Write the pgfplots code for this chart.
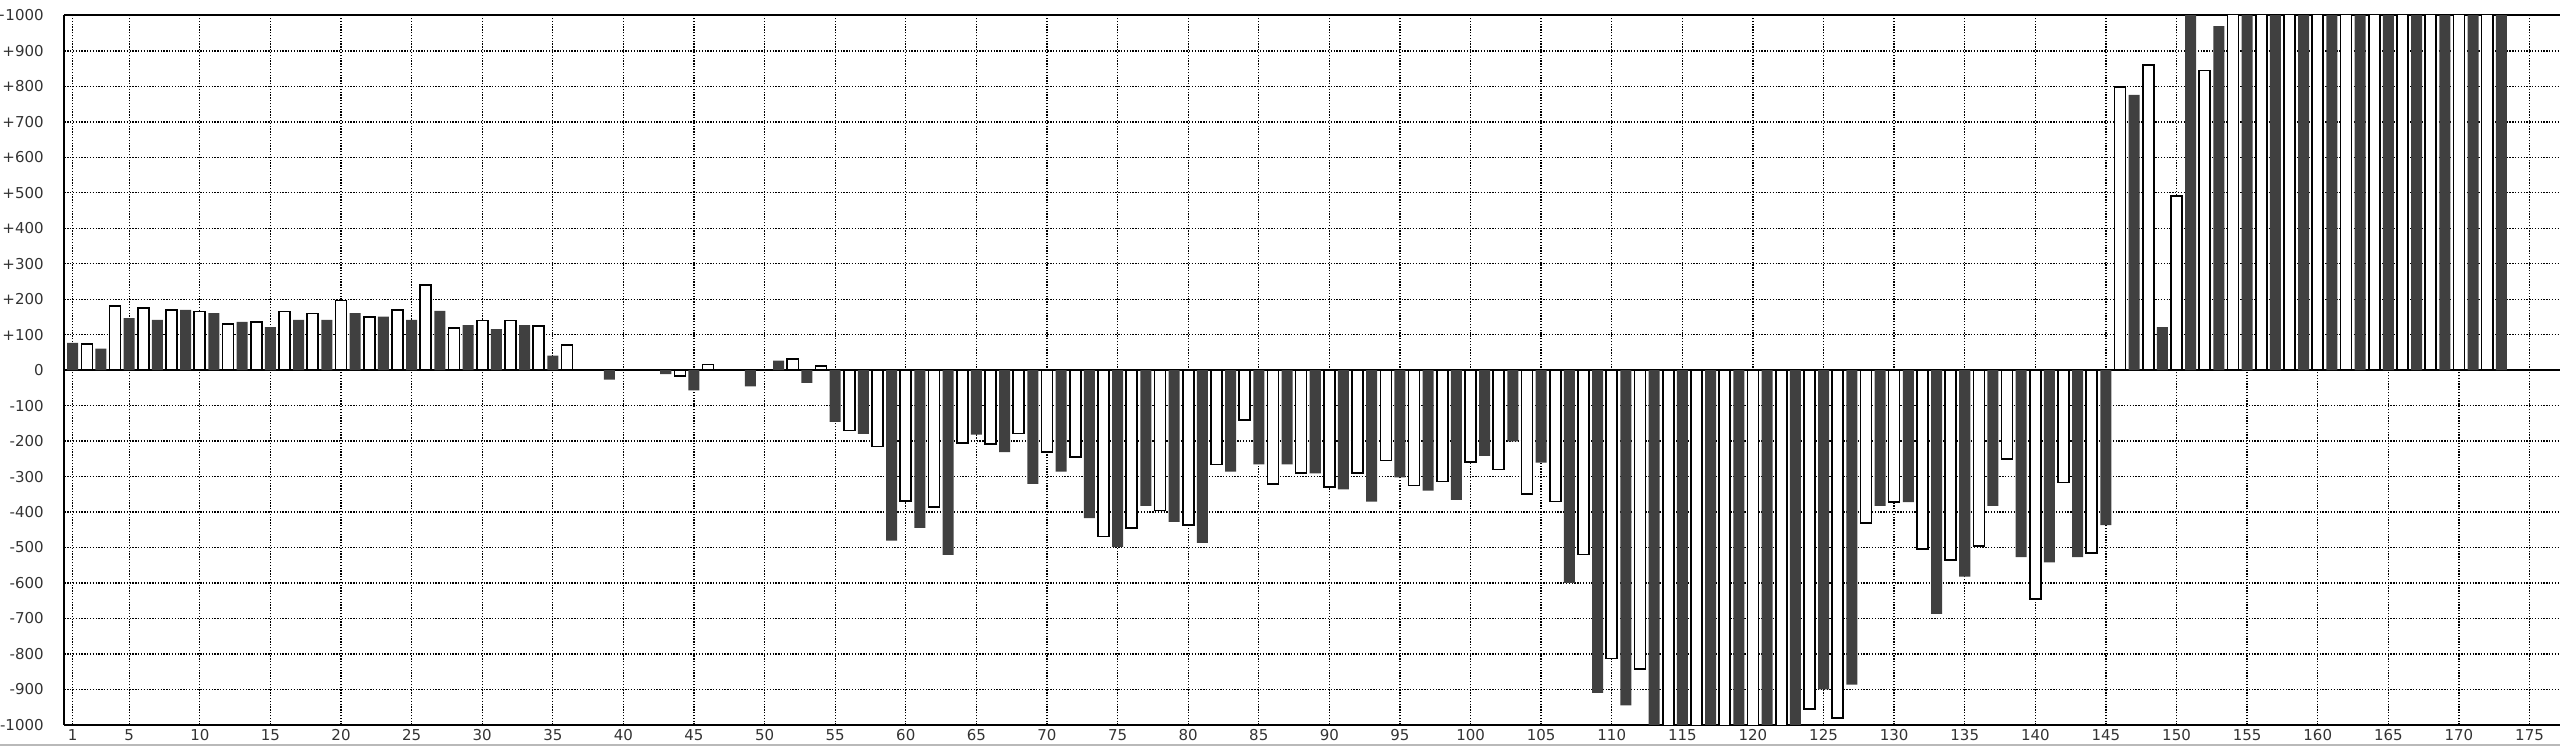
\documentclass[border=0pt]{standalone}
\usepackage{pgfplots}
\pgfplotsset{compat=1.18}
\usepackage{fontspec}
\setmainfont{DejaVu Sans}
\definecolor{darkbar}{HTML}{404040}
\definecolor{labelgray}{HTML}{333333}
\begin{document}
\fontsize{4.5pt}{5.5pt}\selectfont
\begin{tikzpicture}
\begin{axis}[
 scale only axis, width=748.7pt, height=212.8pt,
 xmin=0.405, xmax=177.16, ymin=-1000, ymax=1000,
 axis x line=box, axis y line=left,
 axis line style={-, line width=0.6pt, black},
 xtick={1,5,10,15,20,25,30,35,40,45,50,55,60,65,70,75,80,85,90,95,100,105,110,115,120,125,130,135,140,145,150,155,160,165,170,175},
 ytick={-1000,-900,-800,-700,-600,-500,-400,-300,-200,-100,0,100,200,300,400,500,600,700,800,900,1000},
 yticklabels={-1000,-900,-800,-700,-600,-500,-400,-300,-200,-100,0,+100,+200,+300,+400,+500,+600,+700,+800,+900,+1000},
 xticklabels={1,5,10,15,20,25,30,35,40,45,50,55,60,65,70,75,80,85,90,95,100,105,110,115,120,125,130,135,140,145,150,155,160,165,170,175},
 major tick length=0pt,
 grid=major, major grid style={black, line width=0.4pt, dash pattern=on 0.4pt off 0.45pt},
 tick label style={font=\fontsize{4.5pt}{5.5pt}\selectfont, text=labelgray},
 yticklabel style={anchor=east, inner sep=0pt, xshift=-6pt},
 xticklabel style={anchor=north, inner sep=0pt, yshift=-1.1pt},
 extra y ticks={0}, extra y tick labels={},
 extra y tick style={grid=major, major grid style={solid, black, line width=0.6pt}},
]
% odd positions: dark bars
\addplot[ybar, bar width=0.78, bar shift=0pt, fill=darkbar, draw=none] coordinates {
(1,77) (3,61) (5,147) (7,142) (9,170) (11,161) (13,136) (15,121) (17,142) (19,142)
(21,161) (23,151) (25,142) (27,167) (29,127) (31,116) (33,127) (35,41) (39,-27)
(43,-11) (45,-57) (49,-46) (51,27) (53,-36) (55,-146) (57,-180) (59,-481) (61,-445)
(63,-521) (65,-182) (67,-231) (69,-321) (71,-286) (73,-417) (75,-498) (77,-383) (79,-428)
(81,-487) (83,-286) (85,-266) (87,-266) (89,-291) (91,-336) (93,-371) (95,-302) (97,-340)
(99,-366) (101,-242) (103,-201) (105,-261) (107,-600) (109,-910) (111,-945) (113,-1100)
(115,-1100) (117,-1100) (119,-1100) (121,-1100) (123,-1100) (125,-900) (127,-887)
(129,-383) (131,-372) (133,-687) (135,-582) (137,-383) (139,-527) (141,-542) (143,-527)
(145,-437) (147,776) (149,121) (151,1100) (153,970) (155,1100) (157,1100) (159,1100)
(161,1100) (163,1100) (165,1100) (167,1100) (169,1100) (171,1100) (173,1100)
};
% even positions: white bars
\addplot[ybar, bar width=0.78, bar shift=0pt, fill=white, draw=black, line width=0.5pt] coordinates {
(2,74) (4,181) (6,175) (8,170) (10,165) (12,131) (14,135) (16,165) (18,160) (20,196)
(22,150) (24,170) (26,240) (28,119) (30,140) (32,140) (34,125) (36,70) (44,-16) (46,16)
(52,32) (54,11) (56,-170) (58,-215) (60,-369) (62,-385) (64,-205) (66,-209) (68,-179)
(70,-230) (72,-245) (74,-469) (76,-445) (78,-396) (80,-436) (82,-266) (84,-140) (86,-321)
(88,-290) (90,-330) (92,-290) (94,-255) (96,-325) (98,-314) (100,-259) (102,-280)
(104,-350) (106,-370) (108,-520) (110,-813) (112,-843) (114,-1100) (116,-1100)
(118,-1100) (120,-1100) (122,-1100) (124,-955) (126,-980) (128,-431) (130,-372)
(132,-505) (134,-535) (136,-496) (138,-251) (140,-646) (142,-317) (144,-516) (146,799)
(148,860) (150,491) (152,845) (154,1100) (156,1100) (158,1100) (160,1100) (162,1100)
(164,1100) (166,1100) (168,1100) (170,1100) (172,1100)
};
\coordinate (sw) at (rel axis cs:0,0);
\coordinate (se) at (rel axis cs:1,0);
\coordinate (ne) at (rel axis cs:1,1);
\end{axis}
\draw[gray!55, line width=0.6pt] ([xshift=-19.3pt, yshift=-6.0pt]sw) -- ([yshift=-6.0pt]se);
\pgfresetboundingbox
\path[use as bounding box] ([xshift=-19.3pt, yshift=-6.4pt]sw) rectangle ([yshift=4.65pt]ne);
\end{tikzpicture}
\end{document}
